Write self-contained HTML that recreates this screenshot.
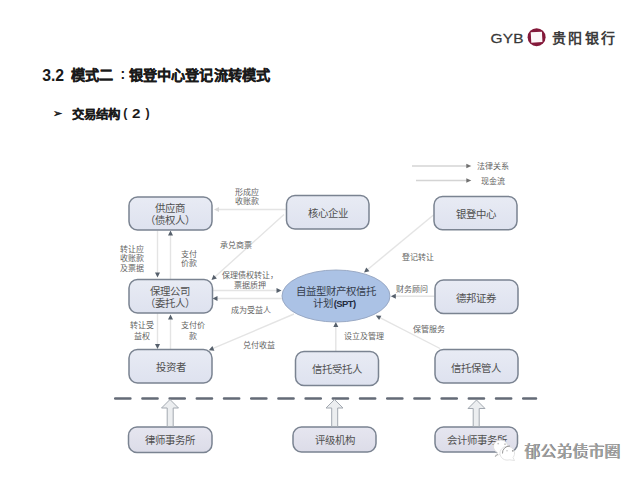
<!DOCTYPE html>
<html lang="zh-CN"><head><meta charset="utf-8">
<style>
html,body{margin:0;padding:0;background:#fff;}
body{width:640px;height:480px;position:relative;overflow:hidden;font-family:"Liberation Sans",sans-serif;}
.t{position:absolute;white-space:nowrap;}
svg{position:absolute;left:0;top:0;}
</style></head><body>
<svg width="640" height="480" viewBox="0 0 640 480">
<defs>
<linearGradient id="bx" x1="0" y1="0" x2="0" y2="1">
<stop offset="0" stop-color="#e8ebf4"/><stop offset="1" stop-color="#dee2ef"/>
</linearGradient>
<linearGradient id="bx2" x1="0" y1="0" x2="0" y2="1">
<stop offset="0" stop-color="#e6e6f0"/><stop offset="1" stop-color="#dcdce8"/>
</linearGradient>
</defs>
<!-- logo -->
<text transform="translate(490.4 42.6) scale(1.17 1)" x="0" y="0" font-family="Liberation Sans" font-size="13.2" fill="#383838" stroke="#383838" stroke-width="0.25" letter-spacing="0.2">GYB</text>
<circle cx="536.6" cy="37.2" r="9" fill="#84193a"/>
<rect x="531" y="32" width="11.2" height="10.4" fill="#fdf6f8" transform="rotate(-3 536.6 37.2)"/>
<text x="551.5" y="42.9" font-family="Liberation Sans" font-size="14" font-weight="bold" fill="#3c3c3c" letter-spacing="2.6">贵阳银行</text>

<!-- legend -->
<g stroke="#d4d4d4" stroke-width="1.3" fill="none">
<line x1="412" y1="166" x2="467" y2="166"/>
<line x1="416" y1="180.5" x2="467" y2="180.5"/>
</g>
<g fill="#707070">
<path d="M471.3 166 L466.3 163.7 L466.3 168.3Z"/>
<path d="M471.3 180.5 L466.3 178.2 L466.3 182.8Z"/>
</g>

<!-- connector lines -->
<g stroke="#e4e4e4" stroke-width="1.4" fill="none">
<line x1="286" y1="209.5" x2="218.00" y2="209.50"/>
<line x1="284" y1="214.5" x2="214.47" y2="277.32"/>
<line x1="157.5" y1="230.5" x2="157.50" y2="273.50"/>
<line x1="170.5" y1="279" x2="170.50" y2="234.50"/>
<line x1="213" y1="290.5" x2="277.50" y2="290.50"/>
<line x1="283" y1="298.5" x2="216.50" y2="298.50"/>
<line x1="433.5" y1="215" x2="367.08" y2="269.95"/>
<line x1="434.5" y1="296.3" x2="394.80" y2="296.30"/>
<line x1="440" y1="348.5" x2="379.36" y2="317.42"/>
<line x1="335.8" y1="351.5" x2="335.80" y2="325.90"/>
<line x1="294" y1="314" x2="212.48" y2="348.73"/>
<line x1="157.5" y1="313" x2="157.50" y2="345.00"/>
<line x1="170.5" y1="349.5" x2="170.50" y2="318.50"/>
</g>
<g fill="#56606c">
<path d="M214.00 209.50 L219.00 207.00 L219.00 212.00Z" fill="#d8d8d8"/>
<path d="M211.50 280.00 L213.53 274.79 L216.89 278.50Z"/>
<path d="M157.50 277.50 L155.00 272.50 L160.00 272.50Z"/>
<path d="M170.50 230.50 L173.00 235.50 L168.00 235.50Z"/>
<path d="M281.50 290.50 L276.50 293.00 L276.50 288.00Z"/>
<path d="M212.50 298.50 L217.50 296.00 L217.50 301.00Z"/>
<path d="M364.00 272.50 L366.26 267.39 L369.45 271.24Z"/>
<path d="M390.80 296.30 L395.80 293.80 L395.80 298.80Z"/>
<path d="M375.80 315.60 L381.39 315.66 L379.11 320.11Z"/>
<path d="M335.80 321.90 L338.30 326.90 L333.30 326.90Z"/>
<path d="M208.80 350.30 L212.42 346.04 L214.38 350.64Z"/>
<path d="M157.50 349.00 L155.00 344.00 L160.00 344.00Z"/>
<path d="M170.50 314.50 L173.00 319.50 L168.00 319.50Z"/>
</g>

<!-- boxes -->
<g stroke="#7a8391" stroke-width="1.5" fill="url(#bx)">
<rect x="129" y="197" width="83" height="33" rx="8.5"/>
<rect x="286.5" y="195.5" width="82.5" height="33.5" rx="8.5"/>
<rect x="434" y="196.5" width="83" height="33.3" rx="8.5"/>
<rect x="129" y="279.5" width="83.5" height="33.5" rx="8.5"/>
<rect x="435" y="280" width="83" height="33.5" rx="8.5"/>
<rect x="129" y="349.5" width="83" height="33.5" rx="8.5"/>
<rect x="295.5" y="351.5" width="83" height="34" rx="8.5"/>
<rect x="435" y="349.5" width="83" height="33.5" rx="8.5"/>
</g>
<g stroke="#7a8391" stroke-width="1.5" fill="url(#bx2)">
<rect x="128.5" y="427" width="83.5" height="25.5" rx="8.5"/>
<rect x="293" y="427" width="83" height="25" rx="8.5"/>
<rect x="435" y="427" width="82.5" height="25" rx="8.5"/>
</g>

<!-- ellipse -->
<ellipse cx="336" cy="296" rx="54" ry="26" fill="#abc2e5" stroke="#94a4c0" stroke-width="0.9"/>

<!-- dashed line -->
<line x1="115.2" y1="398.5" x2="536" y2="398.5" stroke="#646b77" stroke-width="2.5" stroke-linecap="round" stroke-dasharray="15.2 12"/>

<!-- hollow arrows -->
<g fill="#eceef0" stroke="#a2a8b0" stroke-width="1">
<path d="M170 399.5 L178.5 408 L173.2 408 L173.2 426.5 L167.2 426.5 L167.2 408 L161.5 408Z"/>
<path d="M334.5 399.5 L343 408 L337.7 408 L337.7 426.5 L331.7 426.5 L331.7 408 L326 408Z"/>
<path d="M476.5 400 L485 408.5 L479.2 408.5 L479.2 426.5 L473.2 426.5 L473.2 408.5 L468 408.5Z"/>
</g>

<!-- box texts -->
<g font-family="'Liberation Serif', serif" font-size="10.4" fill="#505050" text-anchor="middle">
<text x="170" y="212.4">供应商</text>
<text x="170" y="223.6">（债权人）</text>
<text x="327.7" y="217.4">核心企业</text>
<text x="476" y="218.4">银登中心</text>
<text x="170" y="295.1">保理公司</text>
<text x="170" y="307.4">（委托人）</text>
<text x="476.2" y="301.6">德邦证券</text>
<text x="170.5" y="370.6">投资者</text>
<text x="336.7" y="373.3">信托受托人</text>
<text x="475.8" y="371.5">信托保管人</text>
<text x="170.4" y="443.6">律师事务所</text>
<text x="334.8" y="444.3">评级机构</text>
<text x="476.8" y="444.1">会计师事务所</text>
<text fill="#353d4c" x="336.2" y="294.9">自益型财产权信托</text>
<text fill="#353d4c" x="313.2" y="306.5" text-anchor="start">计划<tspan font-family="'Liberation Sans', sans-serif" font-weight="bold" font-size="9.4" letter-spacing="-0.5" fill="#1f2a40" dx="0.5">(SPT)</tspan></text>
</g>

<!-- small labels -->
<g font-family="'Liberation Serif', serif" font-size="8" fill="#646464" text-anchor="middle">
<text x="493" y="168.8">法律关系</text>
<text x="493" y="183.8">现金流</text>
<text x="246.5" y="194.8">形成应</text>
<text x="246.5" y="203.8">收账款</text>
<text x="236" y="247.8">承兑商票</text>
<text x="132" y="251.8">转让应</text>
<text x="132" y="260.8">收账款</text>
<text x="132" y="270.8">及票据</text>
<text x="188.5" y="256.8">支付</text>
<text x="188.5" y="265.8">价款</text>
<text x="250" y="278.3">保理债权转让，</text>
<text x="249.5" y="287.5">票据质押</text>
<text x="250.7" y="312.8">成为受益人</text>
<text x="258.5" y="347.8">兑付收益</text>
<text x="417.7" y="259.8">登记转让</text>
<text x="411.7" y="291.6">财务顾问</text>
<text x="142.3" y="328.4">转让受</text>
<text x="142.3" y="338.8">益权</text>
<text x="192.5" y="328.4">支付价</text>
<text x="192.5" y="338.8">款</text>
<text x="364.3" y="338.8">设立及管理</text>
<text x="428.8" y="331.8">保管服务</text>
</g>

<!-- wechat icon -->
<g fill="#fff" stroke="#dcdcdc" stroke-width="0.8">
<path d="M495 456.5 L497.5 452.5 A7.2 6.6 0 1 1 503 452.8Z"/>
<path d="M514.5 460.5 L513 457.5 A7.3 6.9 0 1 0 509.5 459.8Z"/>
</g>
<path d="M502.5 453.5 A7.3 6.9 0 0 1 510 446" fill="none" stroke="#8a8a8a" stroke-width="0.9"/>
<path d="M495 456.5 L498 454" fill="none" stroke="#9a9a9a" stroke-width="0.8"/>
<g fill="#c4c4c4">
<circle cx="498.2" cy="443.6" r="0.9"/><circle cx="505" cy="444.2" r="0.9"/>
<circle cx="507" cy="450.8" r="0.8"/><circle cx="512.8" cy="450.8" r="0.9" fill="#999"/>
</g>
</svg>

<div class="t" style="left:42.2px;top:67.3px;font-size:15.8px;font-weight:bold;color:#1a1a1a;">3.2</div>
<div class="t" style="left:71px;top:64px;font-size:14.2px;font-weight:bold;color:#1a1a1a;-webkit-text-stroke:0.25px #1a1a1a;">模式二</div>
<div class="t" style="left:120.5px;top:65.5px;font-size:14px;font-weight:bold;color:#1a1a1a;">:</div>
<div class="t" style="left:128.5px;top:64px;font-size:14.2px;letter-spacing:0.2px;font-weight:bold;color:#1a1a1a;-webkit-text-stroke:0.25px #1a1a1a;">银登中心登记流转模式</div>
<div class="t" style="left:52.5px;top:107.3px;font-size:11px;font-weight:bold;color:#1a1a1a;">➢</div>
<div class="t" style="left:71.5px;top:104.7px;font-size:12.4px;font-weight:bold;color:#1a1a1a;-webkit-text-stroke:0.2px #1a1a1a;">交易结构</div>
<div class="t" style="left:123.3px;top:106px;font-size:12.4px;font-weight:bold;color:#1a1a1a;">(</div>
<div class="t" style="left:131.8px;top:105.5px;font-size:13.2px;font-weight:bold;color:#1a1a1a;transform:scaleX(1.15);transform-origin:0 0;">2</div>
<div class="t" style="left:145.5px;top:106px;font-size:12.4px;font-weight:bold;color:#1a1a1a;">)</div>
<div class="t" style="left:524px;top:439px;font-size:15.8px;color:#a0a0a0;text-shadow:0.5px 0.4px 0 #7a7a7a;">郁公弟债市圈</div>
</body></html>
